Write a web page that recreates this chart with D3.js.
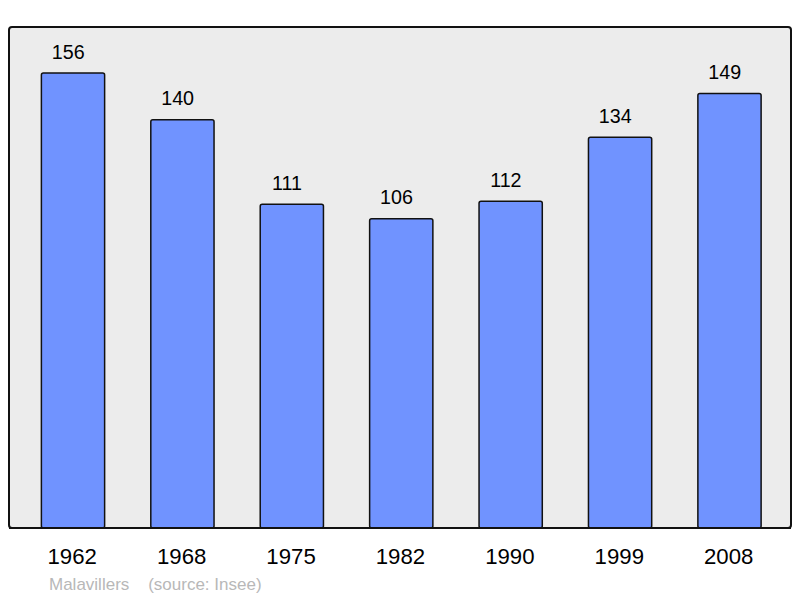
<!DOCTYPE html>
<html><head><meta charset="utf-8">
<script src="https://cdn.jsdelivr.net/npm/d3@7"></script>
<style>body{margin:0;background:#fff}svg{display:block}</style>
</head><body>
<svg id="c" width="800" height="598"></svg>
<script>
const years = ["1962","1968","1975","1982","1990","1999","2008"];
const population = [156,140,111,106,112,134,149];
const commune = "Malavillers";
const source = "(source: Insee)";

const svg = d3.select("#c");
const frame = {x0: 9, x1: 791, y0: 27, y1: 528};
svg.append("rect").attr("x", frame.x0).attr("y", frame.y0)
  .attr("width", frame.x1 - frame.x0).attr("height", frame.y1 - frame.y0)
  .attr("rx", 3).attr("fill", "#ececec").attr("stroke", "#111").attr("stroke-width", 2);

const x = d3.scaleBand().domain(years).range([18.3, 784.2]).padding(0);
const y = d3.scaleLinear().domain([0, 156]).range([528, 73]);
const bw = x.bandwidth() * 0.578;

const g = svg.append("g");
g.selectAll("rect.bar").data(population).join("rect").attr("class","bar")
  .attr("x", (d,i) => x(years[i]) + x.bandwidth()/2 - bw/2)
  .attr("y", d => y(d))
  .attr("width", bw)
  .attr("height", d => y(0) - y(d))
  .attr("rx", 2)
  .attr("fill", "#7093ff").attr("stroke", "#111").attr("stroke-width", 1.5);

g.selectAll("text.val").data(population).join("text").attr("class","val")
  .attr("x", (d,i) => x(years[i]) + x.bandwidth()/2 - 4.8)
  .attr("y", d => y(d) - 14.4)
  .attr("text-anchor", "middle")
  .attr("font-family", "Liberation Sans, Arial, sans-serif")
  .attr("font-size", 19.7).attr("fill", "#000")
  .text(d => d);

svg.append("line").attr("x1", frame.x0).attr("x2", frame.x1).attr("y1", frame.y1).attr("y2", frame.y1)
  .attr("stroke", "#111").attr("stroke-width", 2);

const axis = d3.axisBottom(x).tickSize(0).tickPadding(0);
const ax = svg.append("g").attr("transform", "translate(-0.8,564.3)").call(axis);
ax.select(".domain").remove();
ax.selectAll("text").attr("font-family", "Liberation Sans, Arial, sans-serif")
  .attr("font-size", 22.2).attr("fill", "#000").attr("dy", 0);

svg.append("text").attr("x", 49).attr("y", 590)
  .attr("font-family", "Liberation Sans, Arial, sans-serif")
  .attr("font-size", 17).attr("fill", "#b8b8b8")
  .attr("xml:space", "preserve")
  .text(commune + "    " + source);
</script>
</body></html>
